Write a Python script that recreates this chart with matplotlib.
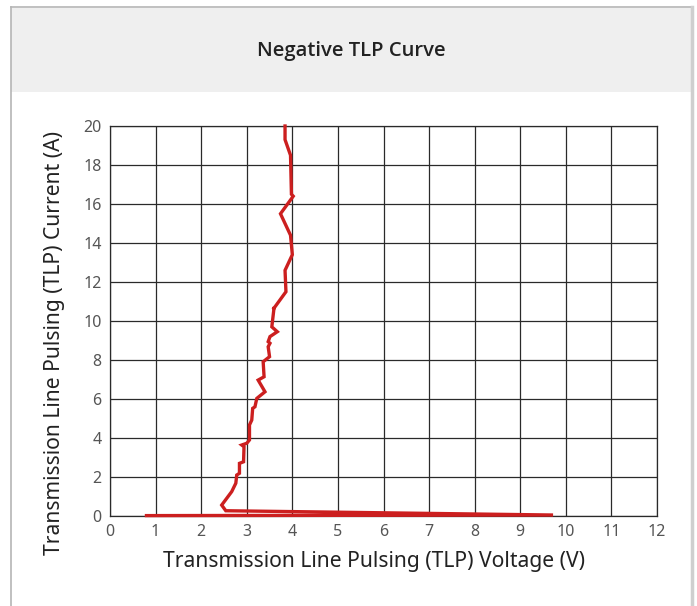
import matplotlib
matplotlib.use("Agg")
import matplotlib.pyplot as plt
from matplotlib.patches import Rectangle
from matplotlib.lines import Line2D

voltage = [0.80, 9.72, 2.54, 2.45, 2.67, 2.76, 2.78, 2.84, 2.84, 2.93, 2.94, 2.89, 3.00,
           3.06, 3.06, 3.11, 3.13, 3.18, 3.22, 3.40, 3.25, 3.38, 3.36, 3.50, 3.47,
           3.51, 3.47, 3.51, 3.67, 3.55, 3.60, 3.58, 3.86, 3.84, 4.00, 3.96, 3.74,
           4.02, 3.98, 3.96, 3.84, 3.84]
current = [0.02, 0.05, 0.27, 0.56, 1.25, 1.68, 2.10, 2.19, 2.70, 2.78, 3.55, 3.64, 3.73,
           3.90, 4.67, 4.92, 5.52, 5.60, 6.03, 6.37, 6.97, 7.14, 7.91, 8.17, 8.68,
           8.86, 8.94, 9.20, 9.45, 9.70, 10.70, 10.60, 11.50, 12.60, 13.40, 14.40, 15.50,
           16.40, 16.50, 18.50, 19.30, 20.00]
x_ticks = list(range(0, 13))
y_ticks = list(range(0, 21, 2))
title = "Negative TLP Curve"
xlabel = "Transmission Line Pulsing (TLP) Voltage (V)"
ylabel = "Transmission Line Pulsing (TLP) Current (A)"

W, H = 697, 606
fig = plt.figure(figsize=(W / 100, H / 100), dpi=100)
fig.patch.set_facecolor("white")

def fx(px):
    return px / W

def fy(py):
    return 1 - py / H

# header band
fig.patches.append(Rectangle((fx(11), fy(92)), fx(691) - fx(11), fy(8) - fy(92),
                             transform=fig.transFigure, facecolor="#efefef",
                             edgecolor="none", zorder=0))
# borders
fig.lines.append(Line2D([fx(11), fx(11)], [fy(7), 0], transform=fig.transFigure,
                        color="#b5b5b5", lw=1.2))
fig.lines.append(Line2D([fx(11), fx(692)], [fy(7), fy(7)], transform=fig.transFigure,
                        color="#b5b5b5", lw=1.2))
fig.lines.append(Line2D([fx(692), fx(692)], [fy(7), 0], transform=fig.transFigure,
                        color="#cfcfcf", lw=2.5))

fig.text(fx(351), fy(51), title, ha="center", va="center", fontsize=14.6,
         fontweight=600, family="Open Sans", color="#222222")

ax = fig.add_axes([fx(110), fy(516), fx(657) - fx(110), fy(126) - fy(516)])
ax.plot(voltage, current, color="#cc1f1f", lw=2.4, solid_joinstyle="miter", zorder=3,
        clip_on=False)
ax.set_xlim(0, 12)
ax.set_ylim(0, 20)
ax.set_xticks(x_ticks)
ax.set_yticks(y_ticks)
ax.grid(True, color="#2a2a2a", lw=0.9)
ax.set_axisbelow(True)
for s in ax.spines.values():
    s.set_color("#2a2a2a")
    s.set_linewidth(0.9)
ax.tick_params(length=0, labelsize=11.5, labelcolor="#555555", pad=6)
for lab in ax.get_xticklabels() + ax.get_yticklabels():
    lab.set_family("Noto Sans")
ax.set_xlabel(xlabel, fontsize=15.2, family="Noto Sans", color="#222222", va="center")
ax.set_ylabel(ylabel, fontsize=15.2, family="Noto Sans", color="#222222", va="center")
ax.xaxis.set_label_coords((374 - 110) / 547, (516 - 561) / 390)
ax.yaxis.set_label_coords((55 - 110) / 547, (516 - 343) / 390)

fig.savefig("out.png", dpi=100)
